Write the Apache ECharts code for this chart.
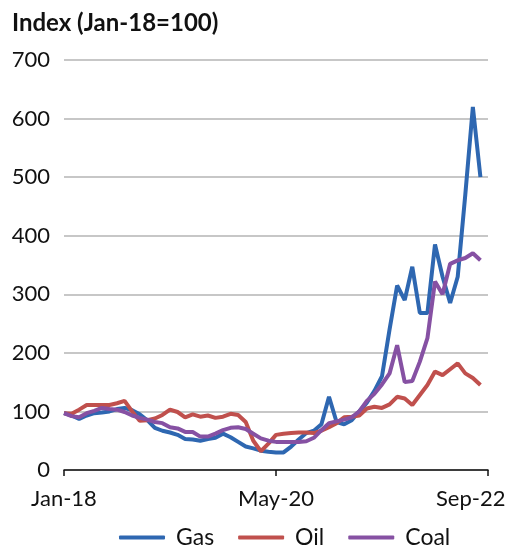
<!DOCTYPE html>
<html>
<head>
<meta charset="utf-8">
<script src="https://cdn.jsdelivr.net/npm/echarts@6/dist/echarts.min.js"></script>
<style>
  html, body { margin: 0; padding: 0; background: #fff; }
  #chart { width: 514px; height: 545px; }
</style>
</head>
<body>
<div id="chart"></div>
<script>
// monthly, Jan-18 .. Sep-22 (data runs to Aug-22)
const monthNames = ['Jan', 'Feb', 'Mar', 'Apr', 'May', 'Jun', 'Jul', 'Aug', 'Sep', 'Oct', 'Nov', 'Dec'];
const months = [];
for (let y = 18; y <= 22; y++) {
    for (let m = 0; m < 12; m++) {
        if (y === 22 && m > 8) break;
        months.push(monthNames[m] + '-' + y);
    }
}

const gas = [97, 93, 87, 93, 97, 98, 100, 104, 106, 102, 95, 85, 72, 67, 64, 60, 53, 52, 50, 53,
    55, 62, 56, 48, 40, 37, 33, 31, 30, 30, 40, 52, 63, 67, 78, 125, 82, 78, 85, 100,
    115, 135, 160, 240, 315, 290, 347, 268, 268, 385, 330, 285, 330, 470, 620, 500];
const oil = [97, 96, 103, 111, 111, 111, 111, 114, 118, 100, 84, 85, 88, 94, 103, 99, 90, 95, 91, 93,
    89, 91, 96, 94, 82, 50, 32, 45, 60, 62, 63, 64, 64, 63, 67, 73, 80, 90, 91, 93,
    105, 108, 106, 112, 125, 122, 111, 128, 145, 168, 162, 172, 182, 165, 157, 145];
const coal = [97, 92, 90, 97, 101, 106, 104, 103, 99, 93, 89, 86, 82, 80, 73, 71, 65, 65, 57, 57,
    62, 68, 72, 73, 70, 62, 54, 50, 48, 48, 48, 48, 49, 55, 68, 80, 83, 86, 90, 100,
    118, 130, 146, 165, 213, 150, 152, 185, 225, 322, 300, 352, 358, 362, 370, 358];

const yTicks = { min: 0, max: 700, step: 100 };

const chart = echarts.init(document.getElementById('chart'));

function lineSeries(name, data, color) {
    return {
        name: name,
        type: 'line',
        data: data,
        symbol: 'none',
        lineStyle: { color: color, width: 4 },
        itemStyle: { color: color }
    };
}

const font = 'Lato, "Noto Sans", sans-serif';

chart.setOption({
    animation: false,
    textStyle: { fontFamily: font },
    title: {
        text: 'Index (Jan-18=100)',
        left: 7,
        top: 6,
        textStyle: { fontSize: 24, fontWeight: 'bold', color: '#111', fontFamily: font }
    },
    grid: { left: 64, right: 26, top: 60, bottom: 75, outerBoundsMode: 'none' },
    legend: {
        top: 521,
        left: 114,
        icon: 'roundRect',
        itemWidth: 46,
        itemHeight: 4,
        itemGap: 24,
        textStyle: { fontSize: 23, color: '#111', fontFamily: font, padding: [0, 0, 0, 6] },
        data: ['Gas', 'Oil', 'Coal']
    },
    xAxis: {
        type: 'category',
        data: months,
        boundaryGap: false,
        axisLine: { lineStyle: { color: '#111', width: 1.5 } },
        axisTick: { show: true, interval: 27, length: 6, lineStyle: { color: '#111', width: 1.5 } },
        axisLabel: {
            interval: 27, fontSize: 22, color: '#111', margin: 18, fontFamily: font,
            // keep the last label inside the chart, as in the original
            formatter: (v, i) => i === months.length - 1 ? '{last|' + v + '}' : v,
            rich: { last: { width: 104, align: 'left', fontSize: 22, color: '#111', fontFamily: font } }
        }
    },
    yAxis: {
        type: 'value',
        min: yTicks.min,
        max: yTicks.max,
        interval: yTicks.step,
        axisLine: { show: false },
        axisTick: { show: false },
        axisLabel: { fontSize: 22, color: '#111', margin: 14, fontFamily: font },
        splitLine: { lineStyle: { color: '#b4b4b4', width: 1.5 } }
    },
    series: [
        lineSeries('Gas', gas, '#2e67b1'),
        lineSeries('Oil', oil, '#c0504d'),
        lineSeries('Coal', coal, '#8651a3')
    ]
});
</script>
</body>
</html>
